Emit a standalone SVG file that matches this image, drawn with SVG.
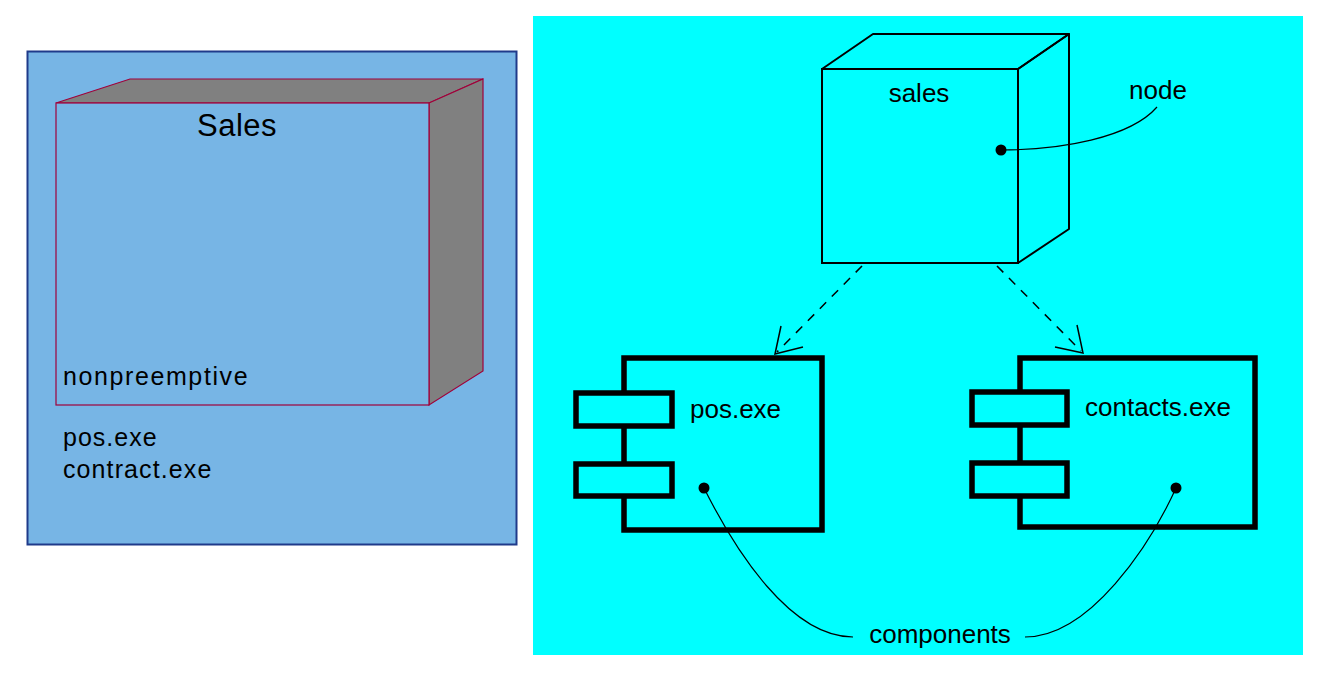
<svg xmlns="http://www.w3.org/2000/svg" width="1335" height="698" viewBox="0 0 1335 698">
<style>
.t{font-family:"Liberation Sans",Arial,sans-serif;fill:#000;}
.cube{fill:#808080;stroke:#a0003a;stroke-width:1.2;}
.sk{fill:none;stroke:#000;stroke-width:2;stroke-linejoin:round;}
.comp{fill:#00ffff;stroke:#000;stroke-width:5.5;}
.note{fill:none;stroke:#000;stroke-width:1.2;}
.dash{fill:none;stroke:#000;stroke-width:1.5;stroke-dasharray:9 8;}
.head{fill:none;stroke:#000;stroke-width:1.5;}
</style>
<rect width="1335" height="698" fill="#fff"/>
<g id="left-panel">
<rect x="27.5" y="51.5" width="489" height="493" fill="#77b5e5" stroke="#1f3a8a" stroke-width="2"/>
<g id="sales-node-3d">
<polygon class="cube" points="56,103 130,79 483,79 429,103"/>
<polygon class="cube" points="429,103 483,79 483,371 429,405"/>
<rect x="56" y="103" width="373" height="302" fill="#77b5e5" stroke="#a0003a" stroke-width="1.2"/>
<text class="t" x="237" y="136" font-size="31" text-anchor="middle" letter-spacing="0.5">Sales</text>
<text class="t" x="63" y="385" font-size="25" letter-spacing="1.6">nonpreemptive</text>
</g>
<text class="t" x="63" y="446" font-size="25" letter-spacing="1">pos.exe</text>
<text class="t" x="63" y="478" font-size="25" letter-spacing="1.1">contract.exe</text>
</g>
<g id="right-panel">
<rect x="533" y="16" width="770" height="639" fill="#00ffff"/>
<g id="node-sales">
<polygon class="sk" points="822,69 873,34 1069,34 1018,69"/>
<polygon class="sk" points="1018,69 1069,34 1069,229 1018,263"/>
<rect x="822" y="69" width="196" height="194" fill="none" stroke="#000" stroke-width="2"/>
<text class="t" x="919" y="102" font-size="26" text-anchor="middle">sales</text>
</g>
<g id="comp-pos">
<rect class="comp" x="624" y="358" width="198" height="172"/>
<rect class="comp" x="576" y="393" width="96" height="33"/>
<rect class="comp" x="576" y="464" width="96" height="32"/>
<text class="t" x="690" y="418" font-size="26">pos.exe</text>
</g>
<g id="comp-contacts">
<rect class="comp" x="1020" y="358" width="235" height="169"/>
<rect class="comp" x="972" y="392" width="95" height="33"/>
<rect class="comp" x="972" y="463" width="95" height="33"/>
<text class="t" x="1085" y="416" font-size="26">contacts.exe</text>
</g>
<g id="connectors">
<path class="dash" d="M862,266 L777,352"/>
<path class="head" d="M781,326 L775,354 L803,347"/>
<path class="dash" d="M997,266 L1081,351"/>
<path class="head" d="M1077,325 L1083,353 L1055,347"/>
</g>
<g id="note-node">
<circle cx="1001" cy="150" r="5.5"/>
<path class="note" d="M1001,150 C1060,150 1130,138 1157,107"/>
<text class="t" x="1158" y="99" font-size="26" text-anchor="middle">node</text>
</g>
<g id="note-components">
<circle cx="704" cy="488" r="5.5"/>
<circle cx="1176" cy="488" r="5.5"/>
<path class="note" d="M704,488 C735,550 790,637 853,637"/>
<path class="note" d="M1176,488 C1150,545 1090,637 1025,637"/>
<text class="t" x="940" y="643" font-size="26" text-anchor="middle">components</text>
</g>
</g>
</svg>
